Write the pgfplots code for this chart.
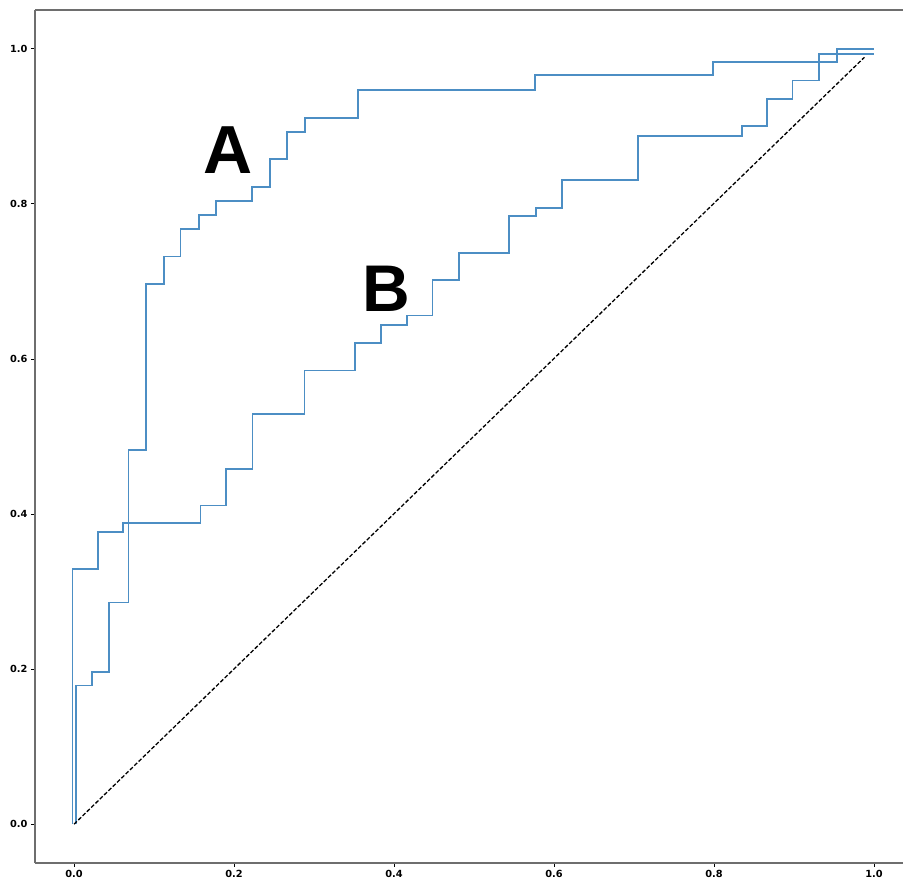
\documentclass[border=0pt]{standalone}
\usepackage{fontspec}
\setmainfont{DejaVu Sans}
\newfontfamily\labfont{Liberation Sans}
\usepackage{pgfplots}
\pgfplotsset{compat=1.18}
\definecolor{rocblue}{RGB}{76,142,196}
\definecolor{spine}{RGB}{110,110,110}
\begin{document}
\begin{tikzpicture}
\begin{axis}[
  name=ax,
  scale only axis,
  width=868pt, height=853pt,
  xmin=-0.04875, xmax=1.03625,
  ymin=-0.05, ymax=1.05,
  axis x line*=bottom, axis y line*=left,
  axis line style={-, spine, line width=1.3pt},
  xtick={0,0.2,0.4,0.6,0.8,1.0},
  ytick={0,0.2,0.4,0.6,0.8,1.0},
  tick align=outside,
  major tick length=4pt,
  tick style={black, line width=0.8pt},
  /pgf/number format/assume math mode=true,
  /pgf/number format/.cd, fixed, fixed zerofill, precision=1,
  /pgfplots/.cd,
  ticklabel style={font=\fontsize{9.8}{11}\selectfont\bfseries},
  clip=false,
]
\draw[spine, line width=1.3pt] (rel axis cs:0,1) -- (rel axis cs:1,1);
% curve A
\addplot[rocblue, line width=1.8pt] coordinates {
(0.002,0) (0.002,0.179) (0.022,0.179) (0.022,0.196) (0.044,0.196) (0.044,0.286)
(0.068,0.286) (0.068,0.483) (0.090,0.483) (0.090,0.697) (0.112,0.697) (0.112,0.732)
(0.133,0.732) (0.133,0.768) (0.156,0.768) (0.156,0.786) (0.1775,0.786) (0.1775,0.804)
(0.2225,0.804) (0.2225,0.822) (0.2446,0.822) (0.2446,0.858) (0.2667,0.858) (0.2667,0.893)
(0.289,0.893) (0.289,0.911) (0.355,0.911) (0.355,0.947) (0.576,0.947) (0.576,0.966)
(0.799,0.966) (0.799,0.983) (0.954,0.983) (0.954,1.0) (1.0,1.0)
};
% curve B
\addplot[rocblue, line width=1.8pt] coordinates {
(-0.002,0) (-0.002,0.329) (0.0296,0.329) (0.0296,0.377) (0.0617,0.377) (0.0617,0.3885)
(0.158,0.3885) (0.158,0.411) (0.190,0.411) (0.190,0.458) (0.223,0.458) (0.223,0.529)
(0.288,0.529) (0.288,0.585) (0.351,0.585) (0.351,0.621) (0.384,0.621) (0.384,0.644)
(0.416,0.644) (0.416,0.656) (0.448,0.656) (0.448,0.702) (0.481,0.702) (0.481,0.737)
(0.544,0.737) (0.544,0.784) (0.5775,0.784) (0.5775,0.795) (0.6096,0.795) (0.6096,0.831)
(0.705,0.831) (0.705,0.888) (0.8346,0.888) (0.8346,0.900) (0.866,0.900) (0.866,0.935)
(0.898,0.935) (0.898,0.959) (0.931,0.959) (0.931,0.9936) (1.0,0.9936)
};
% diagonal
\addplot[black, line width=1.3pt, dash pattern=on 4pt off 2pt] coordinates {(0,0) (0.988,0.989)};
\node[anchor=base, font=\labfont\bfseries\fontsize{68}{70}\selectfont] at (axis cs:0.1925,0.839) {A};
\node[anchor=base, font=\labfont\bfseries\fontsize{66}{68}\selectfont] at (axis cs:0.391,0.6615) {B};
\end{axis}
\pgfresetboundingbox
\path[use as bounding box] ([xshift=-35pt,yshift=-16pt]ax.south west) rectangle ([yshift=10pt]ax.north east);
\end{tikzpicture}
\end{document}
